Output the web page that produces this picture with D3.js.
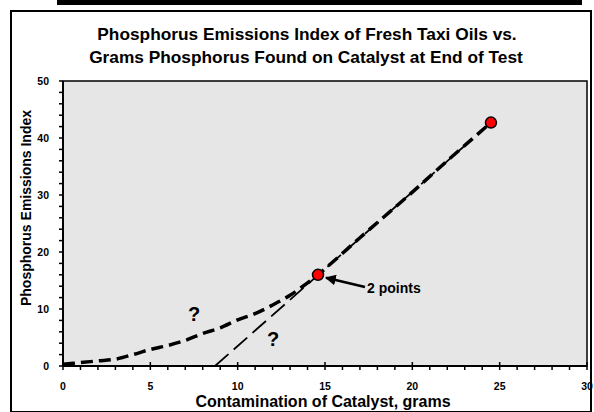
<!DOCTYPE html>
<html>
<head>
<meta charset="utf-8">
<script src="https://cdn.jsdelivr.net/npm/d3@7"></script>
<style>
  body { margin: 0; background: #fff; }
  svg text { font-family: "Liberation Sans", Arial, sans-serif; font-weight: bold; fill: #000; }
</style>
</head>
<body>
<svg id="chart" width="594" height="412"></svg>
<script>
// measured points (x = grams P on catalyst, y = emissions index)
const measuredX = [14.6, 24.5];
const measuredY = [16, 42.7];

// hand-drawn guess curve through the points
const curveX = [0, 1, 2, 3, 4, 5, 6, 7, 8, 9, 10, 11, 12, 13, 14, 14.6, 17, 20, 22, 24.5];
const curveY = [0.3, 0.6, 0.9, 1.2, 2.0, 2.9, 3.6, 4.5, 5.7, 6.7, 8.1, 9.2, 10.7, 12.4, 14.6, 16, 22.5, 30.5, 36, 42.7];

// straight extrapolation line
const lineX = [8.7, 24.5];
const lineY = [0, 42.7];

const xTicks = [0, 5, 10, 15, 20, 25, 30];
const yTicks = [0, 10, 20, 30, 40, 50];

const svg = d3.select('#chart');
const plot = { left: 63, right: 587, top: 81, bottom: 366 };

const x = d3.scaleLinear().domain([0, 30]).range([plot.left, plot.right]);
const y = d3.scaleLinear().domain([0, 50]).range([plot.bottom, plot.top]);

// black bar at the very top and outer frame
svg.append('rect').attr('x', 57).attr('y', 0).attr('width', 525).attr('height', 5).attr('fill', '#000');
svg.append('rect').attr('x', 11).attr('y', 11).attr('width', 580).attr('height', 401)
    .attr('fill', '#fff').attr('stroke', '#000').attr('stroke-width', 2);

// title
svg.append('text').attr('x', 307).attr('y', 40).attr('text-anchor', 'middle').attr('font-size', 17.3)
    .text('Phosphorus Emissions Index of Fresh Taxi Oils vs.');
svg.append('text').attr('x', 306).attr('y', 63).attr('text-anchor', 'middle').attr('font-size', 17.3)
    .text('Grams Phosphorus Found on Catalyst at End of Test');

// plot area
svg.append('rect')
    .attr('x', plot.left).attr('y', plot.top)
    .attr('width', plot.right - plot.left).attr('height', plot.bottom - plot.top)
    .attr('fill', '#e6e6e6').attr('stroke', '#000').attr('stroke-width', 1.5);

// y axis: minor ticks every 2, labels every 10
const yAxis = svg.append('g').attr('transform', `translate(${plot.left},0)`);
yAxis.selectAll('line.minor')
    .data(d3.range(0, 51, 2))
    .enter().append('line')
    .attr('x1', -4).attr('x2', 0)
    .attr('y1', d => y(d)).attr('y2', d => y(d))
    .attr('stroke', '#000').attr('stroke-width', 1.5);
yAxis.selectAll('text')
    .data(yTicks)
    .enter().append('text')
    .attr('x', -14).attr('y', d => y(d) + 4)
    .attr('text-anchor', 'end').attr('font-size', 10.5)
    .text(d => d);
yAxis.append('line').attr('x1', 0).attr('x2', 0).attr('y1', plot.top).attr('y2', plot.bottom)
    .attr('stroke', '#000').attr('stroke-width', 2);

// x axis: minor ticks every 1, major every 5 crossing the axis
const xAxis = svg.append('g').attr('transform', `translate(0,${plot.bottom})`);
xAxis.selectAll('line.minor')
    .data(d3.range(0, 31, 1))
    .enter().append('line')
    .attr('x1', d => x(d)).attr('x2', d => x(d))
    .attr('y1', d => d % 5 === 0 ? -4 : 0).attr('y2', 4)
    .attr('stroke', '#000').attr('stroke-width', 1.5);
xAxis.selectAll('text')
    .data(xTicks)
    .enter().append('text')
    .attr('x', d => x(d)).attr('y', 24)
    .attr('text-anchor', 'middle').attr('font-size', 10.5)
    .text(d => d);
xAxis.append('line').attr('x1', plot.left).attr('x2', plot.right).attr('y1', 0).attr('y2', 0)
    .attr('stroke', '#000').attr('stroke-width', 2);

// axis titles
svg.append('text').attr('x', 323).attr('y', 407).attr('text-anchor', 'middle').attr('font-size', 16)
    .text('Contamination of Catalyst, grams');
svg.append('text').attr('transform', 'translate(31,208) rotate(-90)').attr('text-anchor', 'middle')
    .attr('font-size', 14).text('Phosphorus Emissions Index');

// straight extrapolation line (thin dashes)
const line = d3.line().x(d => x(d[0])).y(d => y(d[1]));
svg.append('path')
    .attr('d', line(d3.zip(lineX, lineY)))
    .attr('fill', 'none').attr('stroke', '#000').attr('stroke-width', 1.8)
    .attr('stroke-dasharray', '18,7');

// guess curve (thick dashes)
const curve = d3.line().x(d => x(d[0])).y(d => y(d[1])).curve(d3.curveCatmullRom);
svg.append('path')
    .attr('d', curve(d3.zip(curveX, curveY)))
    .attr('fill', 'none').attr('stroke', '#000').attr('stroke-width', 3.5)
    .attr('stroke-dasharray', '12,6');

// measured points
svg.selectAll('circle.pt')
    .data(d3.zip(measuredX, measuredY))
    .enter().append('circle')
    .attr('cx', d => x(d[0])).attr('cy', d => y(d[1]))
    .attr('r', 5.5).attr('fill', '#ff0000').attr('stroke', '#000').attr('stroke-width', 1.5);

// question marks
svg.append('text').attr('x', 194).attr('y', 321).attr('text-anchor', 'middle').attr('font-size', 20).text('?');
svg.append('text').attr('x', 273).attr('y', 346).attr('text-anchor', 'middle').attr('font-size', 20).text('?');

// "2 points" annotation with arrow
svg.append('defs').append('marker')
    .attr('id', 'arrow').attr('viewBox', '0 0 10 10').attr('refX', 9).attr('refY', 5)
    .attr('markerWidth', 4).attr('markerHeight', 4).attr('orient', 'auto')
    .append('path').attr('d', 'M0,0 L10,5 L0,10 z').attr('fill', '#000');
svg.append('line')
    .attr('x1', 365).attr('y1', 287).attr('x2', x(measuredX[0]) + 8).attr('y2', y(measuredY[0]) + 3)
    .attr('stroke', '#000').attr('stroke-width', 2.7).attr('marker-end', 'url(#arrow)');
svg.append('text').attr('x', 367).attr('y', 293).attr('font-size', 14).text('2 points');
</script>
</body>
</html>
